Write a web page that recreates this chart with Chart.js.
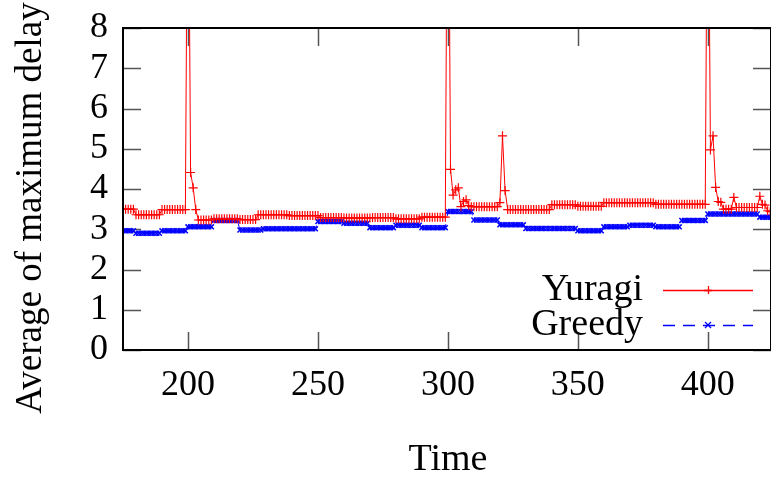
<!DOCTYPE html>
<html>
<head>
<meta charset="utf-8">
<script src="https://cdn.jsdelivr.net/npm/chart.js@4/dist/chart.umd.min.js"></script>
<style>
  html, body { margin: 0; padding: 0; background: #fff; }
  #wrap { width: 771px; height: 482px; }
</style>
</head>
<body>
<div id="wrap"><canvas id="delayChart" width="771" height="482"></canvas></div>
<script>
// time steps (x) and the two series
const time = [
  175,176,177,178,179,180,181,182,183,184,185,186,187,188,189,190,191,192,193,194,
  195,196,197,198,199,200,201,202,203,204,205,206,207,208,209,210,211,212,213,214,
  215,216,217,218,219,220,221,222,223,224,225,226,227,228,229,230,231,232,233,234,
  235,236,237,238,239,240,241,242,243,244,245,246,247,248,249,250,251,252,253,254,
  255,256,257,258,259,260,261,262,263,264,265,266,267,268,269,270,271,272,273,274,
  275,276,277,278,279,280,281,282,283,284,285,286,287,288,289,290,291,292,293,294,
  295,296,297,298,299,300,301,302,303,304,305,306,307,308,309,310,311,312,313,314,
  315,316,317,318,319,320,321,322,323,324,325,326,327,328,329,330,331,332,333,334,
  335,336,337,338,339,340,341,342,343,344,345,346,347,348,349,350,351,352,353,354,
  355,356,357,358,359,360,361,362,363,364,365,366,367,368,369,370,371,372,373,374,
  375,376,377,378,379,380,381,382,383,384,385,386,387,388,389,390,391,392,393,394,
  395,396,397,398,399,400,401,402,403,404,405,406,407,408,409,410,411,412,413,414,
  415,416,417,418,419,420,421,422,423,424
];

const yuragi = [
  3.50,3.50,3.50,3.50,3.50,3.36,3.36,3.36,3.36,3.36, 3.36,3.36,3.36,3.36,3.36,3.49,3.49,3.49,3.49,3.49,
  3.49,3.49,3.49,3.49,3.49,14,4.41,4.03,3.49,3.23, 3.23,3.23,3.23,3.23,3.23,3.26,3.26,3.26,3.26,3.26,
  3.26,3.26,3.26,3.26,3.26,3.24,3.24,3.24,3.24,3.24, 3.24,3.24,3.36,3.36,3.36,3.36,3.36,3.36,3.36,3.36,
  3.36,3.36,3.36,3.36,3.34,3.34,3.34,3.34,3.34,3.34, 3.34,3.34,3.34,3.34,3.34,3.34,3.29,3.29,3.29,3.29,
  3.29,3.29,3.29,3.29,3.29,3.28,3.28,3.28,3.28,3.28, 3.28,3.28,3.28,3.28,3.28,3.28,3.29,3.29,3.29,3.29,
  3.29,3.29,3.29,3.29,3.29,3.26,3.26,3.26,3.26,3.26, 3.26,3.26,3.26,3.26,3.26,3.30,3.30,3.30,3.30,3.30,
  3.30,3.30,3.30,3.30,3.30,15,4.49,3.85,3.98,4.03, 3.56,3.69,3.73,3.59,3.56,3.56,3.56,3.56,3.56,3.56,
  3.56,3.56,3.56,3.56,3.56,3.66,5.32,3.96,3.49,3.49, 3.49,3.49,3.49,3.49,3.49,3.49,3.49,3.49,3.49,3.49,
  3.49,3.49,3.49,3.49,3.49,3.61,3.61,3.61,3.61,3.61, 3.61,3.61,3.61,3.61,3.61,3.57,3.57,3.57,3.57,3.57,
  3.57,3.57,3.57,3.57,3.57,3.66,3.66,3.66,3.66,3.66, 3.66,3.66,3.66,3.66,3.66,3.66,3.66,3.66,3.66,3.66,
  3.66,3.66,3.66,3.66,3.66,3.62,3.62,3.62,3.62,3.62, 3.62,3.62,3.62,3.62,3.62,3.62,3.62,3.62,3.62,3.62,
  3.62,3.62,3.62,3.62,3.62,14,4.97,5.32,4.04,3.69, 3.67,3.50,3.50,3.50,3.50,3.79,3.54,3.54,3.54,3.54,
  3.54,3.54,3.54,3.54,3.54,3.82,3.62,3.60,3.46,3.44
];

const greedy = [
  2.96,2.96,2.96,2.96,2.96,2.90,2.90,2.90,2.90,2.90, 2.90,2.90,2.90,2.90,2.90,2.96,2.96,2.96,2.96,2.96,
  2.96,2.96,2.96,2.96,2.96,3.06,3.06,3.06,3.06,3.06, 3.06,3.06,3.06,3.06,3.06,3.22,3.22,3.22,3.22,3.22,
  3.22,3.22,3.22,3.22,3.22,2.98,2.98,2.98,2.98,2.98, 2.98,2.98,2.98,2.98,3.01,3.01,3.01,3.01,3.01,3.01,
  3.01,3.01,3.01,3.01,3.01,3.01,3.01,3.01,3.01,3.01, 3.01,3.01,3.01,3.01,3.01,3.19,3.19,3.19,3.19,3.19,
  3.19,3.19,3.19,3.19,3.19,3.15,3.15,3.15,3.15,3.15, 3.15,3.15,3.15,3.15,3.15,3.04,3.04,3.04,3.04,3.04,
  3.04,3.04,3.04,3.04,3.04,3.10,3.10,3.10,3.10,3.10, 3.10,3.10,3.10,3.10,3.10,3.04,3.04,3.04,3.04,3.04,
  3.04,3.04,3.04,3.04,3.04,3.44,3.44,3.44,3.44,3.44, 3.44,3.44,3.44,3.44,3.44,3.23,3.23,3.23,3.23,3.23,
  3.23,3.23,3.23,3.23,3.23,3.11,3.11,3.11,3.11,3.11, 3.11,3.11,3.11,3.11,3.11,3.02,3.02,3.02,3.02,3.02,
  3.02,3.02,3.02,3.02,3.02,3.02,3.02,3.02,3.02,3.02, 3.02,3.02,3.02,3.02,3.02,2.96,2.96,2.96,2.96,2.96,
  2.96,2.96,2.96,2.96,2.96,3.06,3.06,3.06,3.06,3.06, 3.06,3.06,3.06,3.06,3.06,3.10,3.10,3.10,3.10,3.10,
  3.10,3.10,3.10,3.10,3.10,3.06,3.06,3.06,3.06,3.06, 3.06,3.06,3.06,3.06,3.06,3.22,3.22,3.22,3.22,3.22,
  3.22,3.22,3.22,3.22,3.22,3.38,3.38,3.38,3.38,3.38, 3.38,3.38,3.38,3.38,3.38,3.38,3.38,3.38,3.38,3.38,
  3.38,3.38,3.38,3.38,3.38,3.30,3.30,3.30,3.30,3.30
];

const xTicks = [200, 250, 300, 350, 400];
const yTicks = [0, 1, 2, 3, 4, 5, 6, 7, 8];

const FONT = 'Liberation Serif, "Times New Roman", serif';

function points(vals) {
    return vals.map((v, i) => ({ x: time[i], y: v }));
}

// gnuplot-ish frame, inward ticks, axis titles and the legend box
const gnuplotFrame = {
    id: 'gnuplotFrame',
    beforeDatasetsDraw(chart) {
        const { ctx, chartArea: a, scales } = chart;
        ctx.save();
        ctx.strokeStyle = '#555';
        ctx.lineWidth = 1.5;
        ctx.beginPath();
        xTicks.forEach(v => {
            const p = Math.round(scales.x.getPixelForValue(v)) + 0.5;
            ctx.moveTo(p, a.bottom); ctx.lineTo(p, a.bottom - 18);
            ctx.moveTo(p, a.top); ctx.lineTo(p, a.top + 18);
        });
        yTicks.forEach(v => {
            const p = Math.round(scales.y.getPixelForValue(v)) + 0.5;
            ctx.moveTo(a.left, p); ctx.lineTo(a.left + 18, p);
            ctx.moveTo(a.right, p); ctx.lineTo(a.right - 18, p);
        });
        ctx.stroke();
        ctx.restore();
    },
    afterDraw(chart) {
        const { ctx, chartArea: a } = chart;
        ctx.save();
        ctx.strokeStyle = '#000';
        ctx.lineWidth = 2;
        ctx.strokeRect(a.left, a.top, a.right - a.left, a.bottom - a.top);

        ctx.fillStyle = '#000';
        ctx.textAlign = 'center';
        ctx.textBaseline = 'middle';
        ctx.font = '38px ' + FONT;
        ctx.fillText('Time', 448, 460);
        ctx.save();
        ctx.font = '37px ' + FONT;
        ctx.translate(31, 208);
        ctx.rotate(-Math.PI / 2);
        ctx.fillText('Average of maximum delay', 0, 0);
        ctx.restore();

        // legend
        ctx.font = '38px ' + FONT;
        const rows = [290, 325];
        chart.data.datasets.forEach((ds, i) => {
            const y = rows[i];
            ctx.fillStyle = '#000';
            ctx.textAlign = 'right';
            ctx.fillText(ds.label, 643, y);
            ctx.strokeStyle = ds.borderColor;
            ctx.lineWidth = 1.3;
            ctx.setLineDash(ds.borderDash || []);
            ctx.beginPath();
            ctx.moveTo(663, y + 0.5); ctx.lineTo(753, y + 0.5);
            ctx.stroke();
            ctx.setLineDash([]);
            ctx.beginPath();
            const r = 4;
            if (ds.pointStyle === 'cross') {
                ctx.moveTo(708 - r, y + 0.5); ctx.lineTo(708 + r, y + 0.5);
                ctx.moveTo(708.5, y - r); ctx.lineTo(708.5, y + r);
            } else {
                ctx.moveTo(708 - 3, y - 3); ctx.lineTo(708 + 3, y + 3);
                ctx.moveTo(708 - 3, y + 3); ctx.lineTo(708 + 3, y - 3);
            }
            ctx.stroke();
        });
        ctx.restore();
    }
};

const ctx = document.getElementById('delayChart').getContext('2d');
new Chart(ctx, {
    type: 'line',
    data: {
        datasets: [
            {
                label: 'Yuragi',
                data: points(yuragi),
                borderColor: '#ff0000',
                backgroundColor: '#ff0000',
                borderWidth: 1,
                pointStyle: 'cross',
                pointRadius: 4.5,
                pointBorderWidth: 1.2,
                pointBorderColor: '#ff0000',
                tension: 0
            },
            {
                label: 'Greedy',
                data: points(greedy),
                borderColor: '#0000ff',
                backgroundColor: '#0000ff',
                borderWidth: 1,
                borderDash: [12, 8],
                pointStyle: 'crossRot',
                pointRadius: 3.5,
                pointBorderWidth: 1.5,
                pointBorderColor: '#0000ff',
                tension: 0
            }
        ]
    },
    options: {
        responsive: false,
        animation: false,
        events: [],
        layout: { autoPadding: false, padding: { top: 28, right: 0, left: 0, bottom: 0 } },
        plugins: {
            legend: { display: false },
            tooltip: { enabled: false }
        },
        scales: {
            x: {
                type: 'linear',
                min: 175,
                max: 424.3,
                grid: { display: false, drawTicks: false },
                border: { display: false },
                afterBuildTicks: s => { s.ticks = xTicks.map(v => ({ value: v })); },
                afterFit: s => { s.height = 132; s.paddingLeft = 0; s.paddingRight = 0; },
                ticks: {
                    padding: 14,
                    autoSkip: false,
                    color: '#000',
                    maxRotation: 0,
                    font: { family: FONT, size: 36 }
                }
            },
            y: {
                min: 0,
                max: 8,
                grid: { display: false, drawTicks: false },
                border: { display: false },
                afterBuildTicks: s => { s.ticks = yTicks.map(v => ({ value: v })); },
                afterFit: s => { s.width = 123; s.paddingTop = 0; s.paddingBottom = 0; },
                ticks: {
                    padding: 15,
                    autoSkip: false,
                    color: '#000',
                    font: { family: FONT, size: 36 }
                }
            }
        }
    },
    plugins: [gnuplotFrame]
});
</script>
</body>
</html>
